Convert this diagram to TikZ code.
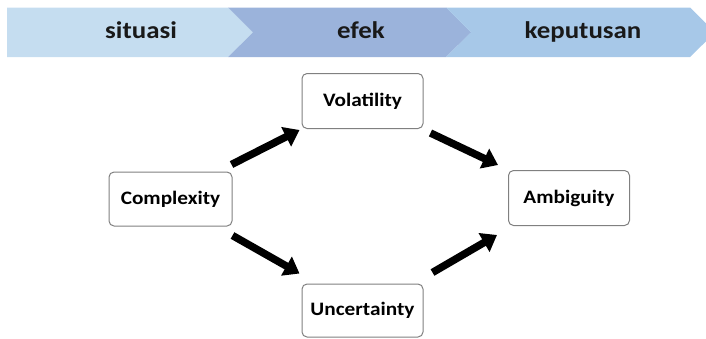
\documentclass[tikz,border=0pt]{standalone}
\usepackage{fontspec}
\setmainfont{Carlito}[FakeStretch=1.12]
\usetikzlibrary{arrows.meta,calc}
\definecolor{cOne}{HTML}{C5DDF0}
\definecolor{cTwo}{HTML}{9BB3DB}
\definecolor{cThree}{HTML}{A7C8E8}
\definecolor{boxline}{HTML}{808080}
\begin{document}
\begin{tikzpicture}[x=1pt,y=-1pt,
  box/.style={draw=boxline,line width=1pt,rounded corners=5pt,fill=white,
    minimum width=121pt,minimum height=55pt,inner sep=0pt,
    font=\bfseries\fontsize{19}{22}\selectfont},
  head/.style={font=\bfseries\fontsize{24}{28}\selectfont,text=black!90,anchor=base,inner sep=0pt},
  bigarrow/.style={line width=7.5pt,-{Triangle[length=15pt,width=21pt]}}]
\useasboundingbox (0,0) rectangle (706,338);
\clip (0,0) rectangle (706,338);
% chevrons
\fill[cOne] (7,7.5) -- (228,7.5) -- (253,32.5) -- (228,57) -- (7,57) -- cycle;
\fill[cTwo] (228,7.5) -- (446,7.5) -- (471,32.5) -- (446,57) -- (228,57) -- (253,32.5) -- cycle;
\fill[cThree] (446,7.5) -- (690,7.5) -- (715,32.5) -- (690,57) -- (446,57) -- (471,32.5) -- cycle;
\node[head] (h1) at (141,38) {situasi};
\node[head] (h2) at (361,38) {efek};
\node[head] (h3) at (583,38) {keputusan};
% boxes
\node[box] (v) at (362.5,101) {Volatility};
\node[box,minimum width=123pt,minimum height=54pt] (c) at (170.5,199) {Complexity};
\node[box,minimum height=53pt] (u) at (362.5,310.5) {Uncertainty};
\node[box] (a) at (569,198) {Ambiguity};
% arrows
\draw[bigarrow] ($(c.north east)+(-1,-7)$) -- ($(v.south west)+(-2,1)$);
\draw[bigarrow] ($(v.south east)+(7,4)$) -- ($(a.north west)+(-10,-5)$);
\draw[bigarrow] ($(c.south east)+(0,9)$) -- ($(u.north west)+(-2,-10)$);
\draw[bigarrow] ($(u.north east)+(9,-11)$) -- ($(a.south west)+(-11,9)$);
\end{tikzpicture}
\end{document}
